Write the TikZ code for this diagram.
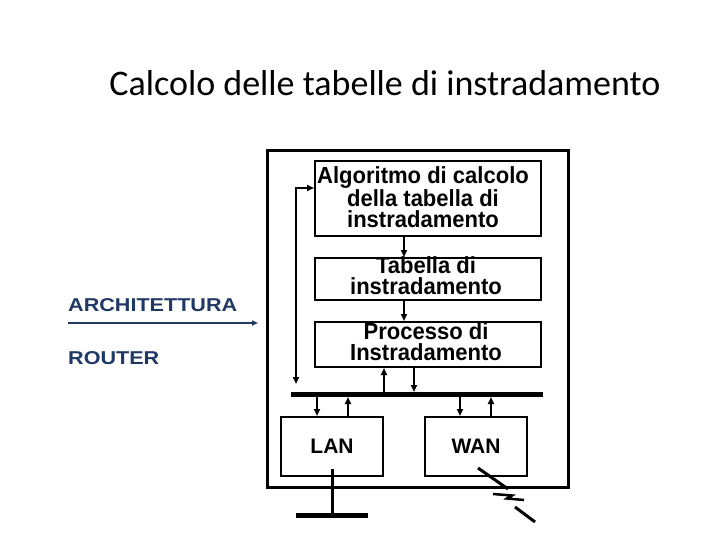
\documentclass[tikz,border=0pt]{standalone}
\usepackage{fontspec}
\setmainfont{Liberation Sans}
\newfontfamily\titlefont{Carlito}
\newfontfamily\boxfont{Liberation Sans}[FakeStretch=0.945]
\newfontfamily\sidefont{Liberation Sans}[FakeStretch=1.16]
\usetikzlibrary{arrows.meta,calc}
\definecolor{navy}{RGB}{31,56,100}
\begin{document}
\begin{tikzpicture}[x=1pt,y=-1pt,
  box/.style={draw,line width=2pt,inner sep=0pt},
  lbl/.style={font=\boxfont\fontsize{23.3}{21}\selectfont\bfseries,align=center,inner sep=0pt},
  iolbl/.style={font=\fontsize{21}{21}\selectfont\bfseries,inner sep=0pt},
  arr/.style={line width=2pt,-{Triangle[length=7pt,width=6pt]}},
  dblarr/.style={line width=2pt,{Triangle[length=7pt,width=6pt]}-{Triangle[length=7pt,width=6pt]}},
  thickline/.style={line width=3pt},
  barline/.style={line width=5pt},
  navyarr/.style={navy,line width=2.5pt,-{Triangle[length=6pt,width=5pt]}},
  sidelbl/.style={font=\sidefont\fontsize{18.6}{20}\selectfont\bfseries,text=navy,inner sep=0pt,anchor=base west}]
\useasboundingbox (0,0) rectangle (720,540);

% title
\node[font=\titlefont\fontsize{36}{42}\selectfont,anchor=base,inner sep=0pt] (title) at (385,96) {Calcolo delle tabelle di instradamento};

% left labels
\node[sidelbl] (arch) at (68,311.5) {ARCHITETTURA};
\node[sidelbl] (rout) at (68,364) {ROUTER};
\coordinate (aS) at (68,323);
\coordinate (aE) at (258,323);
\draw[navyarr] (aS) -- (aE);

% router frame
\node[draw,line width=3pt,minimum width=301pt,minimum height=336pt,inner sep=0pt] (router) at (417.5,319) {};

% boxes
\node[box,minimum width=226pt,minimum height=75pt] (b1) at (428,198.5) {};
\node[box,minimum width=226pt,minimum height=42pt] (b2) at (428,279) {};
\node[box,minimum width=226pt,minimum height=45pt] (b3) at (428,344.5) {};
\node[box,minimum width=102pt,minimum height=59pt] (lan) at (332,446.5) {};
\node[box,minimum width=102pt,minimum height=59pt] (wan) at (476,446.5) {};

\node[lbl] (t1) at ($(b1.center)+(-5,-1)$) {Algoritmo di calcolo\\della tabella di\\instradamento};
\node[lbl] (t2) at ($(b2.center)+(-2,-3)$) {Tabella di\\instradamento};
\node[lbl] (t3) at ($(b3.center)+(-2,-3)$) {Processo di\\Instradamento};
\node[iolbl] (tl) at (lan.center) {LAN};
\node[iolbl] (tw) at (wan.center) {WAN};

% bus
\coordinate (busL) at (291,394.5);
\coordinate (busR) at (543,394.5);
\draw[barline] (busL) -- (busR);

% arrows between boxes
\path ($(b1.south)+(-24,0)$) coordinate (a1s) (a1s |- b2.north) coordinate (a1e);
\draw[arr] (a1s) -- (a1e);
\path ($(b2.south)+(-24,0)$) coordinate (a2s) (a2s |- b3.north) coordinate (a2e);
\draw[arr] (a2s) -- (a2e);

% process <-> bus
\path ($(b3.south)+(-44,0)$) coordinate (pu) (pu |- busL) coordinate (pub);
\draw[arr] (pub) -- (pu);
\path ($(b3.south)+(-14,0)$) coordinate (pd) (pd |- busL) coordinate (pdb);
\draw[arr,shorten >=2.5pt] (pd) -- (pdb);

% feedback
\coordinate (fbT) at (296,188);
\coordinate (fbB) at (296,384);
\draw[dblarr] (fbB) |- (fbT -| b1.west);

% bus <-> LAN
\path ($(lan.north)+(-15,0)$) coordinate (l1) (l1 |- busL) coordinate (l1b);
\draw[arr,shorten <=2.5pt] (l1b) -- (l1);
\path ($(lan.north)+(16,0)$) coordinate (l2) (l2 |- busL) coordinate (l2b);
\draw[arr,shorten >=2.5pt] (l2) -- (l2b);

% bus <-> WAN
\path ($(wan.north)+(-16,0)$) coordinate (w1) (w1 |- busL) coordinate (w1b);
\draw[arr,shorten <=2.5pt] (w1b) -- (w1);
\path ($(wan.north)+(15,0)$) coordinate (w2) (w2 |- busL) coordinate (w2b);
\draw[arr,shorten >=2.5pt] (w2) -- (w2b);

% LAN ground
\coordinate (stemT) at ($(lan.south)+(0,-8)$);
\coordinate (gnd) at ($(lan.south)+(0,38)$);
\draw[thickline] (stemT) -- (gnd);
\draw[barline] ($(gnd)+(-36,0)$) -- ($(gnd)+(36,0)$);

% WAN lightning
\draw[thickline] (478,468) -- (508,489);
\draw[line width=2.5pt] (493,494) -- (512,495.5) -- (507,498.5) -- (524,500);
\draw[thickline] (515,507) -- (535,522);
\end{tikzpicture}
\end{document}
